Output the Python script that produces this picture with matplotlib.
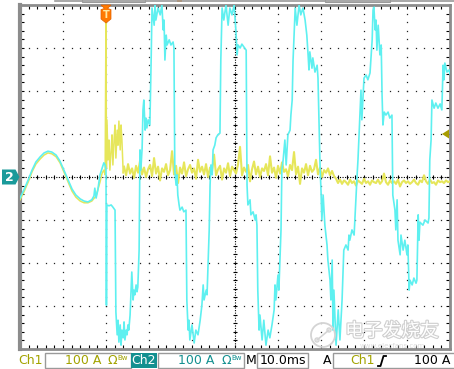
import numpy as np
import matplotlib.pyplot as plt
from matplotlib.patches import Rectangle, Polygon, Circle
import matplotlib.patheffects as pe

W, H = 454, 369

# Ch2 (cyan) current, time in ms, current in A  (10 ms/div, 100 A/div)
ch2_t = [0.0, 0.9, 1.9, 2.8, 3.7, 4.7, 5.6, 6.5, 7.4, 8.4,
         9.3, 10.2, 11.2, 12.1, 13.0, 14.0, 14.9, 15.8, 16.7, 17.2,
         17.4, 17.7, 18.1, 18.6, 19.1, 19.5, 19.8, 20.0, 20.1, 20.2,
         20.7, 21.2, 21.6, 22.1, 22.3, 22.6, 22.8, 23.0, 23.3, 23.5,
         23.7, 24.0, 24.2, 24.4, 24.7, 24.9, 25.1, 25.3, 25.6, 25.8,
         26.0, 26.3, 26.5, 26.7, 27.0, 27.2, 27.4, 27.7, 27.9, 28.1,
         28.4, 28.6, 28.8, 29.1, 29.3, 29.5, 29.8, 30.2, 30.5, 30.7,
         31.2, 31.4, 31.6, 32.1, 32.6, 33.0, 33.3, 33.5, 33.7, 34.0,
         34.2, 34.7, 35.1, 35.6, 35.8, 36.0, 36.3, 36.5, 36.7, 37.0,
         37.2, 37.7, 38.1, 38.6, 38.8, 39.1, 39.3, 39.5, 40.0, 40.5,
         40.9, 41.4, 41.9, 42.3, 42.6, 42.8, 43.3, 43.5, 43.7, 44.0,
         44.2, 44.4, 44.7, 44.9, 45.3, 45.6, 46.0, 46.5, 46.7, 47.0,
         47.4, 47.9, 48.4, 48.8, 49.3, 49.8, 50.2, 50.5, 50.7, 51.2,
         51.6, 52.1, 52.6, 52.8, 53.0, 53.5, 53.7, 54.2, 54.7, 54.9,
         55.1, 55.3, 55.6, 55.8, 56.3, 56.7, 57.2, 57.7, 58.1, 58.6,
         59.1, 59.3, 59.5, 60.0, 60.2, 60.7, 60.9, 61.2, 61.6, 61.9,
         62.3, 62.8, 63.0, 63.3, 63.5, 64.0, 64.4, 64.9, 65.3, 65.8,
         66.3, 66.7, 67.0, 67.2, 67.4, 67.9, 68.1, 68.6, 69.1, 69.3,
         69.8, 70.0, 70.2, 70.5, 70.9, 71.4, 71.6, 72.1, 72.3, 72.6,
         72.8, 73.0, 73.5, 74.0, 74.4, 74.9, 75.3, 75.8, 76.3, 76.5,
         76.7, 77.2, 77.7, 78.1, 78.4, 78.6, 79.1, 79.3, 79.5, 80.0,
         80.5, 80.9, 81.4, 81.9, 82.1, 82.3, 82.6, 82.8, 83.0, 83.3,
         83.7, 84.0, 84.2, 84.4, 84.7, 85.1, 85.6, 86.0, 86.5, 86.7,
         87.2, 87.4, 87.7, 87.9, 88.4, 88.6, 89.1, 89.5, 90.0, 90.2,
         90.5, 90.7, 91.2, 91.6, 92.1, 92.3, 92.6, 92.8, 93.0, 93.7,
         94.2, 94.9, 95.1, 95.3, 95.6, 95.8, 96.3, 96.7, 97.2, 97.7,
         98.1, 98.4, 98.6, 98.8, 99.3, 99.8, 100.0]
ch2_i = [-49, -30, -7, 16, 35, 47, 56, 60, 58, 51,
         37, 16, -7, -28, -42, -51, -56, -58, -53, -44,
         -26, -49, -30, 5, 21, 33, 28, 16, -298, -65,
         -67, -65, -70, -77, -314, -367, -333, -384, -344, -391,
         -356, -374, -337, -379, -356, -367, -344, -356, -321, -274,
         -221, -286, -263, -274, -251, -267, -256, -170, 63, 16,
         67, 156, 179, 109, 137, 114, 133, 121, 272, 393,
         353, 400, 365, 393, 377, 400, 342, 365, 272, 330,
         307, 319, 307, 314, 300, 16, -19, 5, -42, -65,
         -77, -70, -81, -77, -286, -356, -333, -379, -344, -386,
         -356, -367, -333, -298, -251, -286, -263, -274, -216, -123,
         -19, 28, 5, 63, 74, 91, 98, 102, 272, 393,
         365, 400, 353, 393, 377, 400, 342, 284, 307, 300,
         309, 302, 295, -19, -65, -53, -88, -81, -100, -88,
         -112, -263, -356, -321, -379, -333, -391, -356, -374, -344,
         -309, -251, -286, -228, -263, -123, 16, 40, 86, 28,
         98, 109, 144, 179, 272, 393, 353, 400, 377, 393,
         365, 330, 284, 249, 291, 253, 277, 244, 260, 230,
         16, -30, -100, -42, -112, -158, -193, -240, -286, -193,
         -356, -263, -391, -309, -379, -286, -170, -158, -170, -135,
         -147, -123, -135, -53, 5, 40, 156, 202, 133, 230,
         237, 226, 242, 319, 388, 395, 342, 365, 295, 353,
         284, 307, 191, 121, 151, 144, 151, 137, 144, -42,
         -77, -123, -53, -147, -181, -135, -170, -147, -181, -158,
         -263, -240, -251, -235, -247, -240, -88, -147, -105, -112,
         -100, -107, -95, 40, 86, 179, 160, 172, 160, 170,
         156, 260, 226, 265, 244, 249, 240]

# Ch1 (yellow) current up to the end of the trigger burst
ch1_t = [0.0, 0.9, 1.9, 2.8, 3.7, 4.7, 5.6, 6.5, 7.4, 8.4,
         9.3, 10.2, 11.2, 12.1, 13.0, 14.0, 14.9, 15.8, 16.7, 17.7,
         18.6, 19.1, 19.5, 19.8, 20.0, 20.1, 20.2, 20.5, 20.7, 20.9,
         21.2, 21.4, 21.6, 21.9, 22.1, 22.3, 22.6, 22.8, 23.0, 23.3,
         23.5, 23.7, 24.0]
ch1_i = [-53, -35, -12, 12, 30, 42, 51, 56, 54, 47,
         33, 12, -12, -33, -47, -56, -60, -60, -56, -44,
         -12, 9, 16, 5, 390, 20, 133, 40, 86, 16,
         63, 98, 28, 91, 121, 44, 109, 74, 130, 63,
         121, 86, 10]
# Ch1 noise after the burst, sampled every ~0.47 ms from 24.2 ms to 100 ms
ch1_noise = [24, 4, 30, 8, 20, -2, 26, 10, 38, 6, 22, 0, 18, 28, 2, 44, 8, 24, -8, 20,
             12, 30, 4, 16, 60, 6, 26, -14, 22, 8, 34, 2, 18, 28, 10, 20, -4, 40, 12, 24,
             6, 30, 0, 22, 14, 52, 4, 18, 26, -6, 20, 10, 32, 2, 24, 16, 8, 30, 70, 4,
             22, 12, 28, -10, 18, 36, 6, 24, 0, 20, 14, 30, 4, 48, 10, 22, -2, 26, 8, 34,
             12, 18, 2, 28, 16, 58, 6, 24, -16, 20, 10, 30, 4, 26, 12, 18, 40, 6, 22, 0,
             16, 10, 20, 4, 14, 2,
             -4, -14, -6, -16, -8, -12, -18, -6, -14, -10, -20, -8, -12, -16, -4, -14, -10, -18, -8, -12,
             -14, -6, -16, -10, 8, -12, -18, -8, -14, -10, -16, -6, -22, -12, -8, -14, -10, -16, -12, -6,
             -14, -18, -8, -12, 4, -10, -16, -6, -14, -12, -18, -8, -12, -10, -14, -8, -12, -10]
noise_t = np.linspace(24.2, 100, len(ch1_noise))

CYAN = '#5ef0f0'
YELLOW = '#e6e65a'
OLIVE = '#a3a300'
TEAL = '#139090'

fig = plt.figure(figsize=(W / 100, H / 100), dpi=100)
ax = fig.add_axes([20 / W, 20 / H, 430 / W, 344 / H])
ax.set_xlim(0, 100)
ax.set_ylim(-400, 400)

# graticule
ax.set_xticks(np.arange(0, 101, 10))
ax.set_xticks(np.arange(0, 101, 2), minor=True)
ax.set_yticks(np.arange(-400, 401, 100))
ax.set_yticks(np.arange(-400, 401, 20), minor=True)
ax.tick_params(which='both', direction='in', length=3, width=0.8, color='black',
               top=True, right=True, labelbottom=False, labelleft=False)
for s in ax.spines.values():
    s.set_color('#8c8c8c')
    s.set_linewidth(2)
ax.spines['left'].set_linewidth(3)

dot_y = np.arange(-400, 401, 20)
dot_x = np.arange(0, 101, 2)
for x in range(10, 100, 10):
    if x != 50:
        ax.plot([x] * len(dot_y), dot_y, ls='none', marker='s', ms=0.9, mew=0, color='#222222', zorder=1)
for y in range(-300, 301, 100):
    if y != 0:
        ax.plot(dot_x, [y] * len(dot_x), ls='none', marker='s', ms=0.9, mew=0, color='#222222', zorder=1)
ax.axhline(0, color='black', lw=0.8, ls=(0, (1, 1.3)), zorder=1)
ax.axvline(50, color='black', lw=0.8, ls=(0, (1, 1.3)), zorder=1)
ax.plot(dot_x, [0] * len(dot_x), ls='none', marker='|', ms=3.5, mew=0.8, color='black', zorder=1)
ax.plot([50] * len(dot_y), dot_y, ls='none', marker='_', ms=3.5, mew=0.8, color='black', zorder=1)

# traces
ax.plot(ch1_t, ch1_i, color=YELLOW, lw=1.1, zorder=3)
ax.plot(noise_t, ch1_noise, color=YELLOW, lw=1.5, zorder=3)
ax.plot([ch1_t[-1], noise_t[0]], [ch1_i[-1], ch1_noise[0]], color=YELLOW, lw=1.1, zorder=3)
ax.plot(ch2_t, ch2_i, color=CYAN, lw=1.2, zorder=4)

# overlay in pixel coordinates for scope decorations
ov = fig.add_axes([0, 0, 1, 1], zorder=10)
ov.set_xlim(0, W)
ov.set_ylim(H, 0)
ov.axis('off')

# top record bar
ov.plot([55, 454], [1.2, 1.2], color='#9a9a9a', lw=1.2)
ov.add_patch(Rectangle((82, -1), 63, 2.6, fc='white', ec='#9a9a9a', lw=0.8))
ov.add_patch(Rectangle((325, -1), 65, 2.6, fc='white', ec='#9a9a9a', lw=0.8))
ov.add_patch(Rectangle((177, -1), 5, 3, fc='#ff8000', ec='none'))

# trigger position marker
ov.add_patch(Polygon([(101, 5), (111, 5), (107.5, 8.5), (111, 9.5), (111, 19), (106, 23),
                      (101, 19), (101, 9.5), (104.5, 8.5)], closed=True, fc='#ff7a00', ec='#e06000', lw=0.5))
ov.text(106, 14.5, 'T', color='#ffe9a0', fontsize=7, fontweight='bold', ha='center', va='center')

# ch2 ground marker and trigger level marker
ov.add_patch(Polygon([(2, 169.5), (15.5, 169.5), (19.5, 177), (15.5, 184.5), (2, 184.5)],
                     closed=True, fc='#1a9a9a', ec='none'))
ov.text(9, 177.5, '2', color='white', fontsize=9, fontweight='bold', ha='center', va='center')
ov.add_patch(Polygon([(442, 134), (449, 129.5), (449, 138.5)], closed=True, fc='#a89c00', ec='none'))

# watermark
ov.add_patch(Circle((323, 335), 12, fill=False, ec='#d4d4d4', lw=1.3))
ov.plot([317, 329], [340, 330], color='#d4d4d4', lw=1.2)
ov.add_patch(Circle((317, 340), 2, fill=False, ec='#d4d4d4', lw=1))
ov.add_patch(Circle((329, 330), 2, fill=False, ec='#d4d4d4', lw=1))
ov.text(392, 331, '电子发烧友', family=['Noto Sans CJK SC', 'DejaVu Sans'], fontsize=13.5,
        color='white', ha='center', va='center',
        path_effects=[pe.withStroke(linewidth=1.6, foreground='#cfcfcf')])
ov.text(392, 346.5, 'www.elecfans.com', fontsize=5, color='#dcdcdc', ha='center', va='center')

# bottom status bar
fs = 9
ov.text(18, 361, 'Ch1', color=OLIVE, fontsize=fs, ha='left', va='center')
ov.add_patch(Rectangle((45, 352.5), 86, 15.5, fc='white', ec='#9a9a9a', lw=1))
ov.text(65, 361, '100 A', color=OLIVE, fontsize=fs, ha='left', va='center')
ov.text(108, 361, 'Ω', color=OLIVE, fontsize=fs, ha='left', va='center')
ov.text(117, 358, 'Bw', color=OLIVE, fontsize=5, ha='left', va='center')
ov.add_patch(Rectangle((131, 352.5), 26, 15.5, fc=TEAL, ec='none'))
ov.text(144, 361, 'Ch2', color='white', fontsize=fs, ha='center', va='center')
ov.add_patch(Rectangle((158, 352.5), 86, 15.5, fc='white', ec='#9a9a9a', lw=1))
ov.text(178, 361, '100 A', color=TEAL, fontsize=fs, ha='left', va='center')
ov.text(222, 361, 'Ω', color=TEAL, fontsize=fs, ha='left', va='center')
ov.text(231, 358, 'Bw', color=TEAL, fontsize=5, ha='left', va='center')
ov.text(246, 361, 'M', color='black', fontsize=fs, ha='left', va='center')
ov.add_patch(Rectangle((257, 352.5), 51, 15.5, fc='white', ec='#9a9a9a', lw=1))
ov.text(260, 361, '10.0ms', color='black', fontsize=fs, ha='left', va='center')
ov.text(323, 361, 'A', color='black', fontsize=fs, ha='left', va='center')
ov.add_patch(Rectangle((333, 352.5), 125, 15.5, fc='white', ec='#9a9a9a', lw=1))
ov.text(350, 361, 'Ch1', color=OLIVE, fontsize=fs, ha='left', va='center')
ov.plot([378, 380.5, 383.5, 386], [366, 366, 356, 356], color='black', lw=1.3)
ov.text(450, 361, '100 A', color='black', fontsize=fs, ha='right', va='center')

fig.savefig('out.png', dpi=100)
